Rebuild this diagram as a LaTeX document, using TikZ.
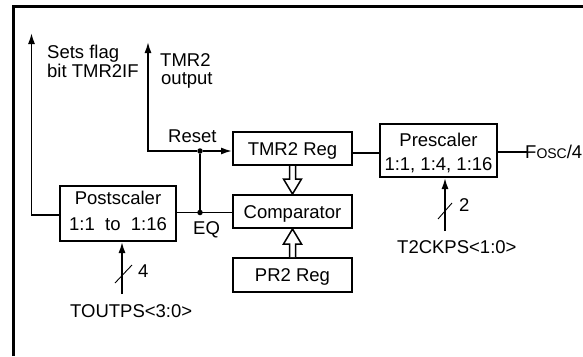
\documentclass[tikz,border=0pt]{standalone}
\usepackage{fontspec}
\setmainfont{Liberation Sans}
\usetikzlibrary{calc,arrows.meta}
\begin{document}
\begin{tikzpicture}[x=1pt,y=-1pt,
  every node/.style={font=\fontsize{18.5}{22}\selectfont, inner sep=0pt},
  blk/.style={draw, line width=2pt, minimum width=119pt, minimum height=33pt, text height=13.3pt, text depth=0pt},
  tallblk/.style={draw, line width=2pt, align=center},
  wire/.style={line width=1.6pt},
  arr/.style={wire, -{Latex[length=11pt,width=7pt]}},
  hollow/.style={line width=1.5pt, fill=white, line join=miter},
  lbl/.style={anchor=base west},
  dot/.style={circle, fill, inner sep=0pt, minimum size=5.5pt},
  tick/.style={line width=0.9pt}]
\useasboundingbox (0,0) rectangle (583,356);
% frame
\draw[line width=2.5pt] (13.5,356) -- (13.5,6.5) -- (583,6.5);
% blocks
\node[blk] (tmr) at (292.5,148.5) {TMR2 Reg};
\node[blk] (comp) at (292.5,211.5) {Comparator};
\node[blk, minimum height=34pt] (pr2) at (292.5,275) {PR2 Reg};
\node[tallblk, minimum width=116pt, minimum height=55pt, font=\fontsize{18.5}{26}\selectfont] (post) at (118,213.5) {Postscaler\\1:1~~to~~1:16\rule[-6.3pt]{0pt}{6.3pt}};
\node[tallblk, minimum width=117pt, minimum height=53pt, font=\fontsize{18.5}{24}\selectfont] (pre) at (438.5,150.5) {\rule{0pt}{17.7pt}Prescaler\\1:1, 1:4, 1:16};
% junctions
\node[dot] (rst) at (200,151) {};
\node[dot] (eq) at (200,212.5) {};
\coordinate (outc) at (148,151);
\coordinate (outtop) at (148,42);
\coordinate (flagc) at (31.5,215);
\coordinate (flagtop) at (31.5,33);
% wires
\draw[arr] (rst) -- (outc) -- (outtop);
\draw[arr] (rst) -- (tmr.west |- rst);
\draw[wire] (eq) -- (rst);
\draw[wire] (post.east |- eq) -- (comp.west |- eq);
\draw[arr] (post.west |- flagc) -- (flagc) -- (flagtop);
\coordinate (tp) at ($(tmr.east)+(0,4.5)$);
\draw[wire] (tp) -- (pre.west |- tp);
% hollow arrows
\draw[hollow] ($(tmr.south)+(-3,0)$) -- ($(comp.north)+(-3,-15)$) -- ($(comp.north)+(-9,-15)$) -- (comp.north) -- ($(comp.north)+(9,-15)$) -- ($(comp.north)+(3,-15)$) -- ($(tmr.south)+(3,0)$);
\draw[hollow] ($(pr2.north)+(-3,0)$) -- ($(comp.south)+(-3,15)$) -- ($(comp.south)+(-9,15)$) -- (comp.south) -- ($(comp.south)+(9,15)$) -- ($(comp.south)+(3,15)$) -- ($(pr2.north)+(3,0)$);
% Fosc
\node[lbl] (fosc) at (525,158) {F{\fontsize{14}{14}\selectfont OSC}/4};
\coordinate (fo) at (527,152);
\draw[wire] (pre.east |- fo) -- (fo);
% TOUTPS bus
\coordinate (b1) at (122,294);
\draw[arr] (b1) -- (b1 |- post.south);
\draw[tick] ($(b1)+(-7,-11)$) -- ($(b1)+(10,-29)$);
\node[lbl] (n4) at (138,277) {4};
\node[lbl] (toutps) at (70,317) {TOUTPS<3:0>};
% T2CKPS bus
\coordinate (b2) at (445,231);
\draw[arr] (b2) -- (b2 |- pre.south);
\draw[tick] ($(b2)+(-7,-12)$) -- ($(b2)+(7,-28)$);
\node[lbl] (n2) at (459,211) {2};
\node[lbl] (t2ck) at (397,253) {T2CKPS<1:0>};
% labels
\node[lbl] (reset) at (168,142) {Reset};
\node[lbl] (eqlbl) at (193,234) {EQ};
\node[lbl] (sf1) at (47,58) {Sets flag};
\node[lbl] (sf2) at (47,77) {bit TMR2IF};
\node[lbl] (to1) at (160,66) {TMR2};
\node[lbl] (to2) at (161,84) {output};
\end{tikzpicture}
\end{document}
